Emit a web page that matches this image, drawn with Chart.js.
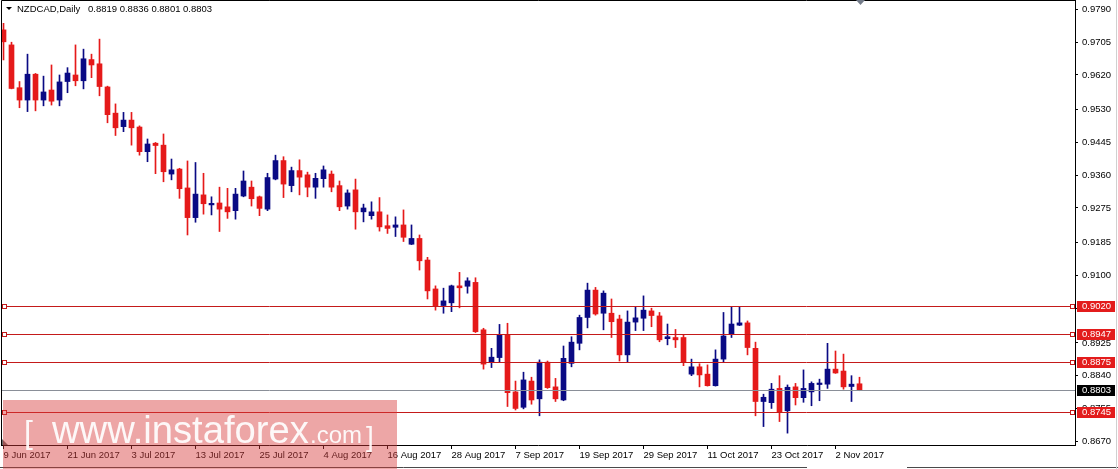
<!DOCTYPE html>
<html>
<head>
<meta charset="utf-8">
<script src="https://cdn.jsdelivr.net/npm/chart.js@4.4.1/dist/chart.umd.min.js"></script>
<style>
  html, body { margin: 0; padding: 0; background: #fff; overflow: hidden; }
</style>
</head>
<body>
<canvas id="chart" width="1118" height="469"></canvas>
<script>
// NZDCAD daily, 9 Jun 2017 - 7 Nov 2017 (one value per trading day)
const opens = [
  0.9737, 0.9698, 0.9587, 0.9555, 0.9622, 0.9555, 0.9581, 0.9555, 0.9603, 0.9620,
  0.9605, 0.9660, 0.9649, 0.9589, 0.9521, 0.9486, 0.9503, 0.9485, 0.9421, 0.9443,
  0.9438, 0.9363, 0.9376, 0.9327, 0.9250, 0.9309, 0.9283, 0.9288, 0.9278, 0.9268,
  0.9306, 0.9329, 0.9304, 0.9272, 0.9350, 0.9398, 0.9333, 0.9372, 0.9361, 0.9329,
  0.9351, 0.9363, 0.9333, 0.9280, 0.9322, 0.9265, 0.9255, 0.9265, 0.9229, 0.9225,
  0.9231, 0.9181, 0.9196, 0.9140, 0.9065, 0.9022, 0.9029, 0.9073, 0.9072, 0.9082,
  0.8959, 0.8875, 0.8887, 0.8947, 0.8798, 0.8758, 0.8826, 0.8780, 0.8875, 0.8811,
  0.8777, 0.8872, 0.8924, 0.8991, 0.9062, 0.9002, 0.9002, 0.8987, 0.8894, 0.8979,
  0.8989, 0.9008, 0.8995, 0.8936, 0.8939, 0.8939, 0.8844, 0.8863, 0.8844, 0.8814,
  0.8883, 0.8947, 0.8971, 0.8977, 0.8911, 0.8773, 0.8770, 0.8807, 0.8749, 0.8811,
  0.8783, 0.8798, 0.8817, 0.8818, 0.8857, 0.8852, 0.8812, 0.8819
];
const highs = [
  0.9754, 0.9705, 0.9603, 0.9674, 0.9624, 0.9617, 0.9646, 0.9620, 0.9639, 0.9698,
  0.9687, 0.9674, 0.9713, 0.9591, 0.9545, 0.9523, 0.9523, 0.9488, 0.9454, 0.9445,
  0.9467, 0.9402, 0.9378, 0.9397, 0.9393, 0.9365, 0.9304, 0.9329, 0.9326, 0.9326,
  0.9371, 0.9345, 0.9306, 0.9365, 0.9412, 0.9408, 0.9381, 0.9400, 0.9368, 0.9365,
  0.9384, 0.9371, 0.9345, 0.9322, 0.9350, 0.9285, 0.9291, 0.9302, 0.9257, 0.9252,
  0.9270, 0.9231, 0.9205, 0.9147, 0.9073, 0.9067, 0.9075, 0.9108, 0.9094, 0.9094,
  0.8963, 0.8911, 0.8973, 0.8976, 0.8826, 0.8849, 0.8836, 0.8881, 0.8878, 0.8833,
  0.8917, 0.8941, 0.8997, 0.9080, 0.9069, 0.9060, 0.9039, 0.8997, 0.9008, 0.9018,
  0.9047, 0.9015, 0.9004, 0.8974, 0.8960, 0.8946, 0.8883, 0.8871, 0.8868, 0.8907,
  0.9004, 0.9019, 0.9019, 0.8982, 0.8927, 0.8792, 0.8820, 0.8840, 0.8816, 0.8820,
  0.8855, 0.8824, 0.8831, 0.8924, 0.8904, 0.8896, 0.8840, 0.8836
];
const lows = [
  0.9659, 0.9584, 0.9535, 0.9525, 0.9527, 0.9540, 0.9542, 0.9540, 0.9574, 0.9592,
  0.9584, 0.9613, 0.9566, 0.9496, 0.9463, 0.9473, 0.9438, 0.9412, 0.9395, 0.9364,
  0.9343, 0.9348, 0.9300, 0.9205, 0.9238, 0.9259, 0.9257, 0.9214, 0.9248, 0.9246,
  0.9304, 0.9280, 0.9255, 0.9268, 0.9348, 0.9302, 0.9317, 0.9309, 0.9304, 0.9300,
  0.9329, 0.9317, 0.9268, 0.9272, 0.9220, 0.9239, 0.9246, 0.9215, 0.9209, 0.9201,
  0.9188, 0.9180, 0.9114, 0.9039, 0.9010, 0.9002, 0.9006, 0.9016, 0.9054, 0.8952,
  0.8857, 0.8861, 0.8876, 0.8760, 0.8751, 0.8754, 0.8766, 0.8736, 0.8807, 0.8773,
  0.8775, 0.8863, 0.8907, 0.8964, 0.8997, 0.8959, 0.8939, 0.8878, 0.8875, 0.8957,
  0.8957, 0.8967, 0.8928, 0.8920, 0.8913, 0.8866, 0.8840, 0.8811, 0.8813, 0.8813,
  0.8876, 0.8939, 0.8970, 0.8894, 0.8736, 0.8708, 0.8755, 0.8721, 0.8691, 0.8764,
  0.8771, 0.8762, 0.8775, 0.8807, 0.8846, 0.8805, 0.8773, 0.8801
];
const closes = [
  0.9706, 0.9585, 0.9555, 0.9622, 0.9555, 0.9576, 0.9552, 0.9602, 0.9625, 0.9605,
  0.9662, 0.9646, 0.9590, 0.9517, 0.9483, 0.9503, 0.9483, 0.9421, 0.9441, 0.9437,
  0.9369, 0.9374, 0.9325, 0.9250, 0.9311, 0.9286, 0.9287, 0.9272, 0.9265, 0.9311,
  0.9345, 0.9299, 0.9274, 0.9354, 0.9398, 0.9337, 0.9372, 0.9355, 0.9329, 0.9352,
  0.9374, 0.9329, 0.9278, 0.9314, 0.9265, 0.9275, 0.9265, 0.9226, 0.9222, 0.9231,
  0.9199, 0.9196, 0.9138, 0.9060, 0.9019, 0.9034, 0.9073, 0.9068, 0.9086, 0.8954,
  0.8870, 0.8888, 0.8947, 0.8796, 0.8755, 0.8829, 0.8777, 0.8875, 0.8809, 0.8780,
  0.8885, 0.8927, 0.8991, 0.9062, 0.9000, 0.9054, 0.8980, 0.8894, 0.8979, 0.8990,
  0.9010, 0.8996, 0.8933, 0.8941, 0.8933, 0.8875, 0.8863, 0.8842, 0.8814, 0.8883,
  0.8943, 0.8974, 0.8977, 0.8913, 0.8773, 0.8784, 0.8805, 0.8745, 0.8810, 0.8783,
  0.8807, 0.8820, 0.8821, 0.8857, 0.8847, 0.8811, 0.8818, 0.8803
];

// one date label every 8 bars, starting at the first bar
const xTickLabels = ['9 Jun 2017', '21 Jun 2017', '3 Jul 2017', '13 Jul 2017', '25 Jul 2017',
  '4 Aug 2017', '16 Aug 2017', '28 Aug 2017', '7 Sep 2017', '19 Sep 2017', '29 Sep 2017',
  '11 Oct 2017', '23 Oct 2017', '2 Nov 2017'];
const yTickLabels = [0.9790, 0.9705, 0.9620, 0.9530, 0.9445, 0.9360, 0.9275, 0.9185,
  0.9100, 0.9015, 0.8925, 0.8840, 0.8755, 0.8670];
const levels = [0.9020, 0.8947, 0.8875, 0.8745];
const bid = 0.8803;

const FONT = '"Liberation Sans", Arial, sans-serif';
const BULL = '#0a0a84';
const BEAR = '#e51a1a';
const LEVEL = '#c41a1a';

const idx = opens.map((_, i) => i);
const colors = idx.map(i => closes[i] >= opens[i] ? BULL : BEAR);

// lines, boxes, title and watermark drawn on top of the chart
const overlay = {
    id: 'overlay',
    afterDatasetsDraw(chart) {
        const { ctx, chartArea: a, scales: { y } } = chart;
        ctx.save();
        ctx.lineWidth = 1;
        const pb = Math.round(y.getPixelForValue(bid)) + 0.5;
        ctx.strokeStyle = '#8a8f98';
        ctx.beginPath(); ctx.moveTo(a.left, pb); ctx.lineTo(a.right, pb); ctx.stroke();
        levels.forEach(v => {
            const p = Math.round(y.getPixelForValue(v)) + 0.5;
            ctx.strokeStyle = LEVEL;
            ctx.beginPath(); ctx.moveTo(a.left, p); ctx.lineTo(a.right, p); ctx.stroke();
            ctx.fillStyle = '#fff';
            [a.left + 1.5, a.right - 4.5].forEach(sx => {
                ctx.fillRect(sx, p - 2, 4, 4);
                ctx.strokeRect(sx, p - 2, 4, 4);
            });
        });
        ctx.restore();
    },
    afterDraw(chart) {
        const { ctx, chartArea: a, scales: { x, y } } = chart;
        ctx.save();
        // frame (left + top)
        ctx.strokeStyle = '#000';
        ctx.lineWidth = 1;
        ctx.beginPath();
        ctx.moveTo(a.left + 0.5, a.bottom); ctx.lineTo(a.left + 0.5, a.top + 0.5); ctx.lineTo(a.right, a.top + 0.5);
        ctx.stroke();

        // title
        const n = opens.length - 1;
        ctx.fillStyle = '#000';
        ctx.beginPath(); ctx.moveTo(6, 7); ctx.lineTo(12, 7); ctx.lineTo(9, 10); ctx.closePath(); ctx.fill();
        ctx.font = '9.5px ' + FONT;
        ctx.textBaseline = 'middle';
        ctx.textAlign = 'left';
        ctx.fillText('NZDCAD,Daily', 17, 9);
        ctx.fillText([opens[n], highs[n], lows[n], closes[n]].map(v => v.toFixed(4)).join(' '), 88, 9);

        // price boxes on the right axis
        const box = (v, bg) => {
            const p = Math.round(y.getPixelForValue(v));
            ctx.fillStyle = bg;
            ctx.fillRect(a.right + 2, p - 5, 38, 11);
            ctx.fillStyle = '#fff';
            ctx.fillText(v.toFixed(4), a.right + 7, p + 0.5);
        };
        levels.forEach(v => box(v, '#e31c1c'));
        box(bid, '#000');

        // chart shift marker and corner marker
        const sx = Math.round(x.getPixelForValue(n)) + 0.5;
        ctx.fillStyle = '#737b89';
        ctx.beginPath(); ctx.moveTo(sx - 4.5, 0); ctx.lineTo(sx + 4.5, 0); ctx.lineTo(sx, 5); ctx.closePath(); ctx.fill();
        ctx.fillStyle = '#6b6b6b';
        ctx.beginPath(); ctx.moveTo(a.left + 1, a.bottom); ctx.lineTo(a.left + 7, a.bottom); ctx.lineTo(a.left + 1, a.bottom - 6); ctx.closePath(); ctx.fill();

        // window edges
        ctx.strokeStyle = '#4a4a4a';
        ctx.beginPath(); ctx.moveTo(0, 467.5); ctx.lineTo(807, 467.5); ctx.moveTo(907, 467.5); ctx.lineTo(1118, 467.5); ctx.stroke();
        ctx.strokeStyle = '#d0d0d0';
        ctx.beginPath(); ctx.moveTo(1116.5, 0); ctx.lineTo(1116.5, 469); ctx.stroke();

        // watermark
        ctx.fillStyle = 'rgba(214, 58, 58, 0.45)';
        ctx.fillRect(3, 400, 394, 69);
        ctx.fillStyle = 'rgba(255, 255, 255, 0.92)';
        ctx.textBaseline = 'alphabetic';
        ctx.font = '32px ' + FONT;
        ctx.fillText('[', 24, 443);
        ctx.font = '38px ' + FONT;
        const w = ctx.measureText('www.instaforex').width;
        const size = 38 * 257 / w;
        ctx.font = size + 'px ' + FONT;
        ctx.fillText('www.instaforex', 52, 443);
        ctx.font = '24px ' + FONT;
        ctx.fillText('.com', 310, 443);
        ctx.font = '28px ' + FONT;
        ctx.fillText(']', 366, 446);
        ctx.restore();
    }
};

new Chart(document.getElementById('chart'), {
    type: 'bar',
    data: {
        datasets: [
            {
                label: 'body',
                data: idx.map(i => ({ x: i, y: [opens[i], closes[i]] })),
                backgroundColor: colors,
                borderWidth: 0,
                barThickness: 5,
                minBarLength: 1,
                grouped: false,
                order: 1
            },
            {
                label: 'wick',
                data: idx.map(i => ({ x: i, y: [lows[i], highs[i]] })),
                backgroundColor: colors,
                borderWidth: 0,
                barThickness: 1,
                grouped: false,
                order: 2
            }
        ]
    },
    options: {
        responsive: false,
        animation: false,
        layout: { padding: { left: 1, top: 0, right: 0, bottom: 0 } },
        plugins: { legend: { display: false }, tooltip: { enabled: false } },
        scales: {
            x: {
                type: 'linear',
                min: -0.3125,
                max: 133.9375,
                offset: false,
                afterBuildTicks: s => { s.ticks = xTickLabels.map((_, k) => ({ value: k * 8 })); },
                afterFit: s => { s.height = 24; s.paddingLeft = 0; s.paddingRight = 0; },
                ticks: {
                    callback: v => xTickLabels[v / 8],
                    align: 'start',
                    autoSkip: false,
                    maxRotation: 0,
                    padding: 1,
                    color: '#000',
                    font: { family: FONT, size: 9.5 }
                },
                grid: { offset: false, drawOnChartArea: false, drawTicks: true, tickLength: 4, color: '#000' },
                border: { display: true, color: '#000' }
            },
            y: {
                position: 'right',
                min: 0.86602,
                max: 0.98145,
                beginAtZero: false,
                afterBuildTicks: s => { s.ticks = yTickLabels.map(v => ({ value: v })); },
                afterFit: s => { s.width = 43; s.paddingTop = 0; s.paddingBottom = 0; },
                ticks: {
                    callback: v => v.toFixed(4),
                    autoSkip: false,
                    padding: 4,
                    color: '#000',
                    font: { family: FONT, size: 9.5 }
                },
                grid: { drawOnChartArea: false, drawTicks: true, tickLength: 3, color: '#000' },
                border: { display: true, color: '#000' }
            }
        }
    },
    plugins: [overlay]
});
</script>
</body>
</html>
